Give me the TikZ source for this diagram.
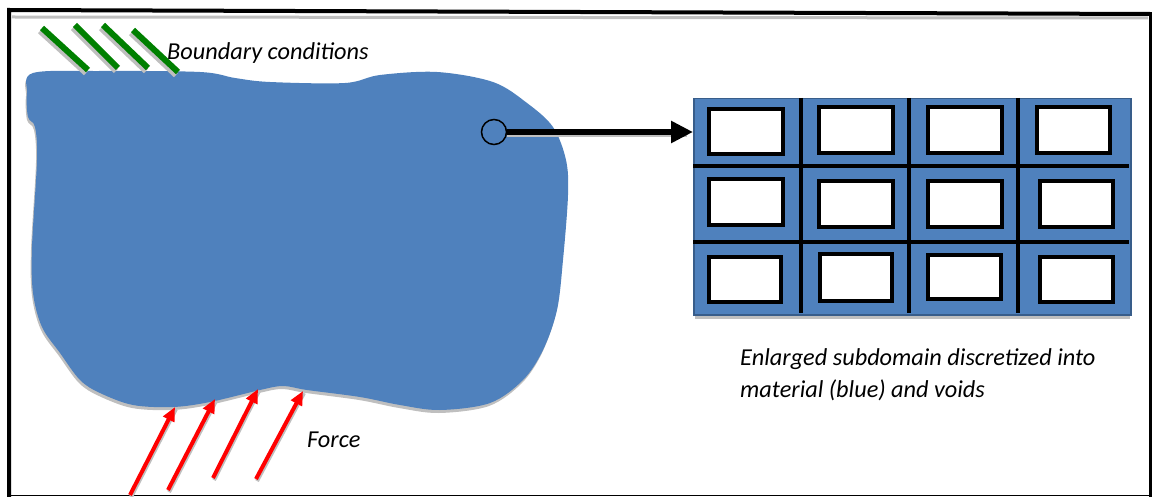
\documentclass[tikz,border=0pt]{standalone}
\usepackage{fontspec}
\setmainfont{Carlito}
\usetikzlibrary{arrows.meta}
\definecolor{blobblue}{HTML}{4F81BD}
\definecolor{edgeblue}{HTML}{385D8A}
\definecolor{bcgreen}{RGB}{0,128,0}
\definecolor{shadowgray}{gray}{0.75}
\tikzset{
  lbl/.style={font=\fontsize{24.3}{29}\selectfont\itshape, inner sep=0pt, text=black},
  bcline/.style={line width=6pt, bcgreen},
  bcshadow/.style={line width=6pt, shadowgray},
  forcearrow/.style={line width=4pt, red, -{Triangle[length=14pt,width=12pt]}},
  forceshadow/.style={line width=4pt, shadowgray},
  voidbox/.style={draw=black, fill=white, line width=3.5pt},
  gridline/.style={line width=4pt, black},
}
\begin{document}
\begin{tikzpicture}[x=1pt,y=-1pt]
\useasboundingbox (0,0) rectangle (1153,497);
% frame
\draw[shadowgray, line width=3pt] (12,17) -- (1148,18);
\draw[line width=4pt] (9,497) -- (9,10) -- (1150,14);
\draw[line width=3pt] (1150,12.5) -- (1150,497);
\draw[line width=1.5pt] (9,495.5) -- (1151,495.5);
% blob shadow
\def\blobpts{(33,73) (100,71) (200,72) (235,78) (270,82) (345,83) (380,75) (437,72) (493,82) (527,103) (553,127) (566,160) (568,195) (563,260) (557,310) (543,350) (523,380) (490,403) (440,410) (400,405) (360,397) (307,390) (283,386) (260,390) (210,402) (173,407) (133,405) (100,393) (80,380) (60,353) (42,327) (33,293) (32,247) (37,160) (35,127) (28,117) (27,93)}
\fill[shadowgray, shift={(-1pt,-3pt)}] plot[smooth cycle, tension=0.55] coordinates {\blobpts};
\fill[blobblue] plot[smooth cycle, tension=0.55] coordinates {\blobpts};
% boundary condition lines
\foreach \ax/\ay/\bx/\by in {42/28/88/70, 75/25/118/68, 103/25/148/68, 133/30/178/72}{
  \draw[bcshadow] (\ax-2,\ay+3) -- (\bx-2,\by+3);
}
\foreach \ax/\ay/\bx/\by in {42/28/88/70, 75/25/118/68, 103/25/148/68, 133/30/178/72}{
  \draw[bcline] (\ax,\ay) -- (\bx,\by);
}
\node[lbl, anchor=base west] (bc) at (167,60) {Boundary conditions};
% force arrows
\foreach \ax/\ay/\bx/\by in {130/495/175/407, 168/490/215/399, 213/478/258/389, 256/479/303/391}{
  \draw[forceshadow] (\ax+1,\ay+2) -- (\bx+1,\by+2);
}
\foreach \ax/\ay/\bx/\by in {130/495/175/407, 168/490/215/399, 213/478/258/389, 256/479/303/391}{
  \draw[forcearrow] (\ax,\ay) -- (\bx,\by);
}
\node[lbl, anchor=base west] (force) at (307,447) {Force};
% subdomain grid
\draw[shadowgray, line width=3pt] (695,317) -- (1130,317);
\node[draw=edgeblue, fill=blobblue, line width=1.5pt, minimum width=437pt, minimum height=216pt, inner sep=0pt, anchor=north west] (grid) at (693,98) {};
\foreach \x in {800.7, 909, 1018}{
  \draw[gridline] (\x,98) -- (\x,313);
}
\foreach \y in {166, 242}{
  \draw[gridline] (693,\y) -- (1129,\y);
}
\draw[voidbox] (709,109) rectangle (783,154);
\draw[voidbox] (819,107) rectangle (893,153);
\draw[voidbox] (928,107) rectangle (1002,153);
\draw[voidbox] (1037,107) rectangle (1110,153);
\draw[voidbox] (709,179) rectangle (783,225);
\draw[voidbox] (819,181) rectangle (893,227);
\draw[voidbox] (928,181) rectangle (1002,227);
\draw[voidbox] (1040,181) rectangle (1113,227);
\draw[voidbox] (709,257) rectangle (781,302);
\draw[voidbox] (820,254) rectangle (892,301);
\draw[voidbox] (928,255) rectangle (1001,299);
\draw[voidbox] (1040,257) rectangle (1113,302);
% zoom marker and arrow
\node[circle, draw=black, line width=1.5pt, minimum size=25pt, inner sep=0pt] (mark) at (494,132) {};
\coordinate (gridin) at (693,132);
\draw[shadowgray, line width=5pt] ([yshift=-3pt]mark.east) -- ([xshift=-6pt,yshift=-3pt]gridin);
\draw[line width=6pt, -{Triangle[length=22pt,width=21pt]}] (mark.east) -- (gridin);
\node[lbl, anchor=base west] (sub1) at (740,365) {Enlarged subdomain discretized into};
\node[lbl, anchor=base west] (sub2) at (740,397) {material (blue) and voids};
\end{tikzpicture}
\end{document}
